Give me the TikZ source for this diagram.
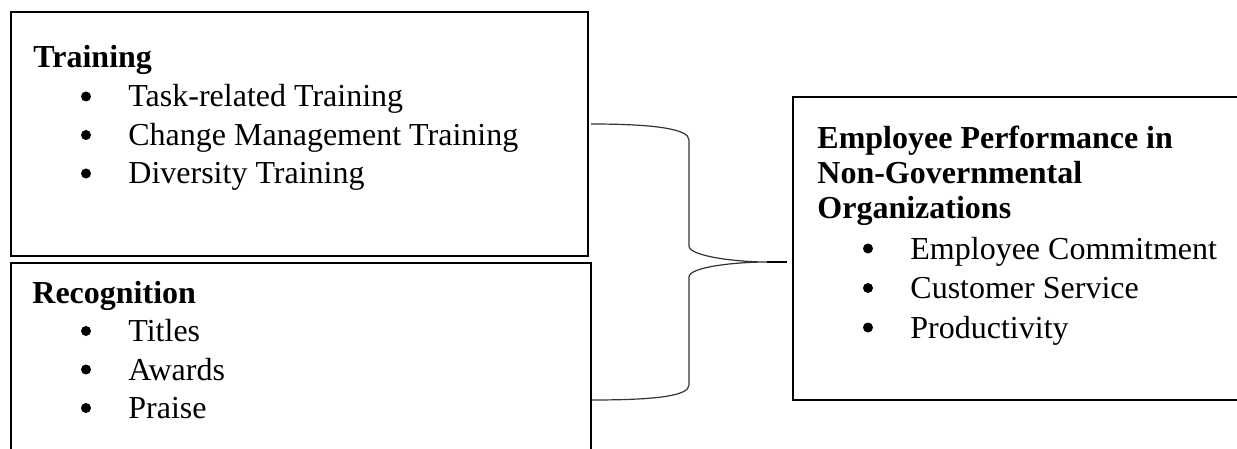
\documentclass[tikz,border=0pt]{standalone}
\usepackage{fontspec}
\setmainfont{Liberation Serif}
\usetikzlibrary{fit}
\begin{document}
\begin{tikzpicture}[x=0.5pt,y=-0.5pt,
  box/.style={draw, line width=1pt, inner sep=0pt},
  ttl/.style={anchor=base west, inner sep=0pt, font=\fontsize{16pt}{19pt}\selectfont\bfseries},
  itm/.style={anchor=base west, inner sep=0pt, font=\fontsize{16pt}{19pt}\selectfont},
  bul/.style={circle, fill=black, inner sep=0pt, minimum size=5pt},
  brace/.style={draw=black!80, line width=0.6pt}]
\useasboundingbox (0,0) rectangle (1237,449);
\clip (0,0) rectangle (1237,449);
% boxes
\node[box, fit={(11,12) (588,256)}] (train) {};
\node[box, fit={(11,262.5) (591,480)}] (recog) {};
\node[box, fit={(792.5,97) (1260,400)}] (perf) {};
% Training
\node[ttl] (t0) at (33,68) {Training};
\node[bul] (tb1) at (86,96.5) {};
\node[itm] (t1) at (128,107) {Task-related Training};
\node[bul] (tb2) at (86,135) {};
\node[itm] (t2) at (128,145.5) {Change Management Training};
\node[bul] (tb3) at (86,173.5) {};
\node[itm] (t3) at (128,184) {Diversity Training};
% Recognition
\node[ttl] (r0) at (32,303) {Recognition};
\node[bul] (rb1) at (86,331) {};
\node[itm] (r1) at (128,341.5) {Titles};
\node[bul] (rb2) at (86,369.5) {};
\node[itm] (r2) at (128,380) {Awards};
\node[bul] (rb3) at (86,408) {};
\node[itm] (r3) at (128,418.5) {Praise};
% Performance
\node[ttl] (p0) at (817,148.5) {Employee Performance in};
\node[ttl] (p1) at (817,183.5) {Non-Governmental};
\node[ttl] (p2) at (817,218.5) {Organizations};
\node[bul] (pb1) at (868,248.5) {};
\node[itm] (p3) at (910,259) {Employee Commitment};
\node[bul] (pb2) at (868,288) {};
\node[itm] (p4) at (910,298.5) {Customer Service};
\node[bul] (pb3) at (868,327.5) {};
\node[itm] (p5) at (910,338) {Productivity};
% brace
\coordinate (bt) at (train.east |- 0,124);
\coordinate (bb) at (recog.east |- 0,400);
\coordinate (tip) at (767,262);
\coordinate (tipend) at (787,262);
\path[brace] ([xshift=1pt]bt) .. controls (655,124) and (689,129) .. (689,140)
  -- (689,246) .. controls (689,256) and (735,262) .. (tip)
  .. controls (735,262) and (689,267) .. (689,277)
  -- (689,385) .. controls (689,396) and (655,400) .. (bb);
\draw[line width=0.8pt] (tip) -- (tipend);
\end{tikzpicture}
\end{document}
